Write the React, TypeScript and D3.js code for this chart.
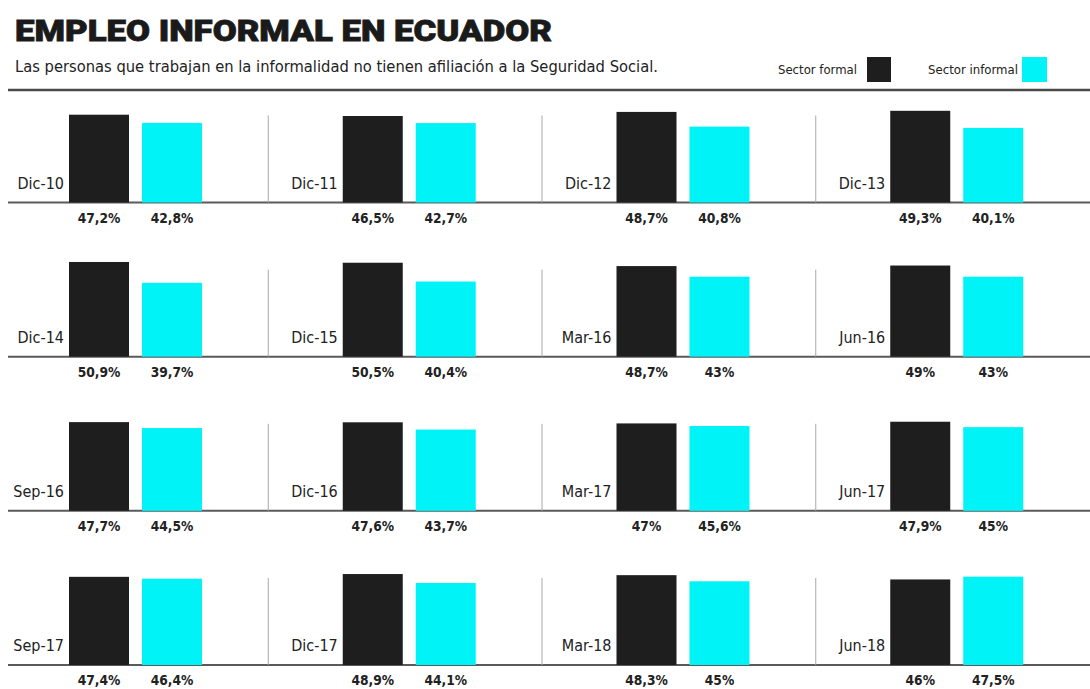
import React from "react";
import * as d3 from "d3";

const periods = ["Dic-10","Dic-11","Dic-12","Dic-13","Dic-14","Dic-15","Mar-16","Jun-16","Sep-16","Dic-16","Mar-17","Jun-17","Sep-17","Dic-17","Mar-18","Jun-18"];
const formal = [47.2,46.5,48.7,49.3,50.9,50.5,48.7,49,47.7,47.6,47,47.9,47.4,48.9,48.3,46];
const informal = [42.8,42.7,40.8,40.1,39.7,40.4,43,43,44.5,43.7,45.6,45,46.4,44.1,45,47.5];
const seriesKeys = ["formal", "informal"];
const seriesNames = ["Sector formal", "Sector informal"];
const seriesColors = ["#1e1e1e", "#00f3f6"];

const title = "EMPLEO INFORMAL EN ECUADOR";
const subtitle = "Las personas que trabajan en la informalidad no tienen afiliación a la Seguridad Social.";

const W = 1090, H = 689;
const NCOL = 4, NROW = 4;
const sans = "'DejaVu Sans', 'Roboto', sans-serif";

const fmt = (v: number) => String(v).replace(".", ",") + "%";

export default function App() {
  const colX = d3.scaleBand<number>().domain(d3.range(NCOL)).range([-6, 1089]).padding(0);
  const rowY = d3.scalePoint<number>().domain(d3.range(NROW)).range([202.5, 665]);
  const h = d3.scaleLinear().domain([0, 100]).range([0, 186]);
  const barOffset = 75;
  const inner = d3.scaleBand<string>().domain(seriesKeys).range([0, 133]).paddingInner(0.178).paddingOuter(0);

  const panels = periods.map((p, i) => ({
    period: p,
    col: i % NCOL,
    row: Math.floor(i / NCOL),
    values: [formal[i], informal[i]],
  }));

  return (
    <div style={{ position: "absolute", left: 0, top: 0 }}>
      <svg width={W} height={H} style={{ display: "block", background: "#fff" }}>
        <text x={15} y={40.5} fontFamily="Roboto, 'DejaVu Sans', sans-serif" fontWeight={900} fontSize={29}
          fill="#1a1a1a" stroke="#1a1a1a" strokeWidth={0.8} textLength={537} lengthAdjust="spacingAndGlyphs">{title}</text>
        <text x={15} y={72} fontFamily={sans} fontSize={16.5} fill="#222"
          textLength={643} lengthAdjust="spacingAndGlyphs">{subtitle}</text>
        {/* legend */}
        <text x={857} y={74} textAnchor="end" fontFamily={sans} fontSize={12.5} fill="#222"
          textLength={79} lengthAdjust="spacingAndGlyphs">{seriesNames[0]}</text>
        <rect x={867} y={57} width={24} height={25} fill={seriesColors[0]} />
        <text x={1018} y={74} textAnchor="end" fontFamily={sans} fontSize={12.5} fill="#222"
          textLength={90} lengthAdjust="spacingAndGlyphs">{seriesNames[1]}</text>
        <rect x={1022} y={57} width={25} height={25} fill={seriesColors[1]} />
        <line x1={8} x2={W} y1={90} y2={90} stroke="#4a4a4a" strokeWidth={2.5} />

        {rowY.domain().map((r) => (
          <line key={"b" + r} x1={8} x2={W} y1={rowY(r)} y2={rowY(r)} stroke="#5a5a5a" strokeWidth={2} />
        ))}
        {panels.map((pn) => {
          const x0 = colX(pn.col)!;
          const base = rowY(pn.row)!;
          const bx = x0 + barOffset;
          return (
            <g key={pn.period}>
              {pn.col > 0 && (
                <line x1={x0 + 0.5} x2={x0 + 0.5} y1={base - 87} y2={base} stroke="#a8a8a8" strokeWidth={1} />
              )}
              <text transform={`translate(${bx - 5},${base - 14}) scale(0.9,1)`} textAnchor="end"
                fontFamily={sans} fontSize={16} fill="#222">
                {pn.period}
              </text>
              {seriesKeys.map((k, si) => (
                <g key={k}>
                  <rect x={bx + inner(k)!} y={base - h(pn.values[si])} width={inner.bandwidth()}
                    height={h(pn.values[si])} fill={seriesColors[si]} />
                  <text transform={`translate(${bx + inner(k)! + inner.bandwidth() / 2},${base + 20}) scale(0.88,1)`}
                    textAnchor="middle" fontFamily={sans} fontWeight={700} fontSize={14} fill="#222">
                    {fmt(pn.values[si])}
                  </text>
                </g>
              ))}
            </g>
          );
        })}
      </svg>
    </div>
  );
}
